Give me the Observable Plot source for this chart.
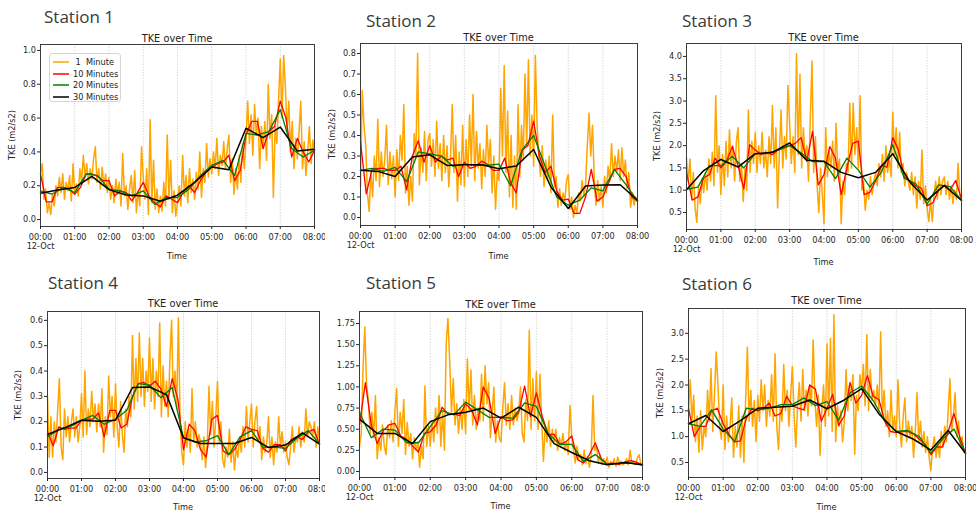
<!DOCTYPE html>
<html><head><meta charset="utf-8">
<script src="https://cdn.jsdelivr.net/npm/d3@7"></script>
<script src="https://cdn.jsdelivr.net/npm/@observablehq/plot@0.6"></script>
<style>
body{margin:0;background:#fff;}
#root{position:relative;width:976px;height:514px;overflow:hidden;background:#fff;font-family:"DejaVu Sans",sans-serif;}
.wrap{position:absolute;overflow:hidden;}
.pbox{position:absolute;}
.station{position:absolute;font-family:"Open Sans",sans-serif;font-size:17px;line-height:17px;color:#3a3a3a;white-space:nowrap;}
.ttl{position:absolute;font-size:9.8px;color:#222;transform:translate(-50%,-50%);white-space:nowrap;}
.xl{position:absolute;font-size:8.2px;color:#222;transform:translate(-50%,-50%);white-space:nowrap;}
.yl{position:absolute;font-size:8.2px;color:#222;transform:translate(-50%,-50%) rotate(-90deg);white-space:nowrap;}
.legend{position:absolute;border:1px solid #d4d4d4;border-radius:3px;background:rgba(255,255,255,0.8);box-sizing:border-box;}
.li{position:absolute;font-size:8.2px;color:#222;white-space:pre;transform:translateY(-50%);}
</style></head>
<body><div id="root"></div>
<script>
// ---------- shared axis data ----------
const hourTicks = [0, 60, 120, 180, 240, 300, 360, 420, 480];
const hourLabels = ["00:00\n12-Oct", "01:00", "02:00", "03:00", "04:00", "05:00", "06:00", "07:00", "08:00"];
const seriesNames = [" 1  Minute", "10 Minutes", "20 Minutes", "30 Minutes"];
const seriesColors = ["#FFA500", "#FF0000", "#008000", "#000000"];

// ---------- Station 1 ----------
const s1_1min = [
0.27,0.33,0.12,0.18,0.04,0.10,0.03,0.15,0.08,0.20,
0.14,0.25,0.16,0.27,0.12,0.22,0.17,0.26,0.11,0.33,
0.15,0.21,0.14,0.30,0.22,0.38,0.25,0.33,0.21,0.30,
0.24,0.36,0.43,0.22,0.30,0.18,0.31,0.20,0.27,0.16,
0.25,0.12,0.20,0.10,0.24,0.15,0.22,0.08,0.39,0.14,
0.20,0.06,0.18,0.26,0.10,0.29,0.04,0.17,0.08,0.43,
0.25,0.12,0.30,0.03,0.59,0.10,0.35,0.06,0.18,0.04,
0.14,0.05,0.22,0.08,0.50,0.12,0.35,0.04,0.17,0.02,
0.10,0.20,0.08,0.38,0.14,0.26,0.10,0.30,0.16,0.24,
0.12,0.28,0.18,0.40,0.13,0.30,0.22,0.45,0.25,0.36,
0.27,0.40,0.30,0.48,0.26,0.38,0.32,0.46,0.30,0.42,
0.50,0.22,0.36,0.15,0.30,0.18,0.38,0.22,0.45,0.30,
0.48,0.70,0.45,0.62,0.38,0.68,0.50,0.60,0.30,0.55,
0.42,0.58,0.35,0.80,0.48,0.62,0.13,0.55,0.45,0.70,
0.95,0.60,0.97,0.78,0.52,0.70,0.40,0.58,0.30,0.48,
0.36,0.52,0.70,0.30,0.46,0.26,0.40,0.55,0.33,0.47,
0.40];
const s1_10min = [0.27,0.105,0.105,0.19,0.19,0.18, 0.15,0.19,0.27,0.27,0.255,0.23, 0.23,0.14,0.17,0.16,0.11,0.16, 0.22,0.14,0.10,0.075,0.14,0.12, 0.10,0.16,0.20,0.16,0.23,0.28, 0.31,0.33,0.34,0.38,0.23,0.29, 0.50,0.58,0.58,0.42,0.52,0.55, 0.70,0.60,0.37,0.48,0.40,0.34, 0.41];
const s1_20min = [0.17,0.15,0.19,0.16,0.27,0.26,0.18,0.17,0.14,0.17,0.09,0.13,0.13,0.18,0.26,0.32,0.35,0.26,0.51,0.50,0.52,0.65,0.42,0.37,0.41];
const s1_30min = [0.155,0.175,0.19,0.255,0.177,0.145,0.14,0.108,0.144,0.22,0.311,0.295,0.54,0.484,0.547,0.405,0.415];
const s1_yTicks = [0, 0.2, 0.4, 0.6, 0.8, 1.0];

// ---------- Station 2 ----------
const s2_1min = [
0.15,0.62,0.45,0.36,0.12,0.03,0.22,0.10,0.30,0.18,
0.48,0.15,0.32,0.20,0.28,0.45,0.16,0.32,0.19,0.30,
0.10,0.33,0.18,0.40,0.28,0.55,0.12,0.25,0.06,0.20,
0.08,0.41,0.30,0.80,0.16,0.34,0.22,0.42,0.18,0.38,
0.41,0.25,0.38,0.20,0.47,0.24,0.36,0.18,0.40,0.22,
0.35,0.15,0.30,0.55,0.22,0.40,0.08,0.32,0.16,0.45,
0.15,0.38,0.20,0.50,0.25,0.60,0.18,0.42,0.24,0.36,
0.14,0.33,0.20,0.45,0.26,0.38,0.12,0.30,0.04,0.22,
0.18,0.63,0.30,0.74,0.22,0.52,0.10,0.40,0.05,0.30,
0.04,0.55,0.20,0.45,0.28,0.70,0.35,0.77,0.30,0.50,
0.25,0.79,0.45,0.30,0.20,0.35,0.15,0.28,0.18,0.30,
0.12,0.50,0.15,0.20,0.05,0.14,0.06,0.12,0.08,0.18,
0.21,0.04,0.10,0.00,0.06,0.02,0.12,0.08,0.18,0.10,
0.16,0.35,0.51,0.30,0.45,0.20,0.06,0.18,0.08,0.15,
0.05,0.20,0.12,0.25,0.18,0.36,0.20,0.30,0.22,0.33,
0.18,0.34,0.20,0.28,0.14,0.22,0.05,0.12,0.06,0.10,
0.08];
const s2_10min = [0.37,0.115,0.235,0.24,0.24,0.23, 0.23,0.25,0.135,0.30,0.375,0.27, 0.35,0.27,0.30,0.28,0.29,0.20, 0.27,0.24,0.25,0.275,0.26,0.23, 0.23,0.29,0.17,0.12,0.33,0.35, 0.47,0.30,0.22,0.25,0.13,0.085, 0.09,0.02,0.02,0.10,0.235,0.08, 0.10,0.17,0.235,0.24,0.20,0.10, 0.08];
const s2_20min = [0.23,0.24,0.225,0.245,0.175,0.32,0.31,0.30,0.25,0.26,0.255,0.255,0.26,0.155,0.33,0.40,0.25,0.10,0.06,0.085,0.145,0.13,0.235,0.16,0.08];
const s2_30min = [0.23,0.225,0.20,0.295,0.306,0.254,0.257,0.257,0.238,0.251,0.332,0.149,0.044,0.154,0.158,0.16,0.084];
const s2_yTicks = [0, 0.1, 0.2, 0.3, 0.4, 0.5, 0.6, 0.7, 0.8];

// ---------- Station 3 ----------
const s3_1min = [
1.72,1.20,1.70,0.80,1.40,0.60,0.28,1.10,0.70,1.25,
0.95,1.40,1.00,1.70,1.20,1.85,1.10,3.12,1.40,2.00,
0.90,1.80,1.10,2.10,1.30,2.35,1.50,2.00,1.20,2.10,
2.40,1.20,1.60,0.75,1.50,1.00,2.80,1.40,2.10,1.60,
2.30,1.40,2.00,1.60,2.30,1.50,1.90,1.30,2.20,1.60,
2.90,1.50,2.40,0.60,1.80,2.80,1.50,2.20,1.70,3.35,
2.50,1.60,2.20,1.40,4.06,1.80,3.60,1.50,2.40,1.70,
2.00,1.20,2.60,3.90,1.40,2.20,1.10,0.50,1.50,0.90,
0.25,2.40,1.30,1.90,1.50,2.10,1.20,2.50,1.40,1.70,
0.25,1.20,0.90,1.60,1.40,2.95,1.50,2.95,1.80,2.40,
1.50,3.12,1.00,1.20,0.55,1.00,0.80,1.30,0.90,1.20,
1.40,1.10,1.60,1.30,1.80,1.20,2.00,1.40,1.70,1.30,
2.75,1.80,2.40,1.50,2.30,1.40,1.60,1.10,1.40,1.20,
1.00,1.40,0.90,1.30,0.60,1.20,0.80,1.90,0.70,1.10,
0.60,0.30,0.80,0.30,0.90,1.20,0.80,1.30,0.90,1.20,
1.30,0.90,1.20,0.80,1.10,0.70,1.00,0.80,1.60,0.90,
0.78];
const s3_10min = [1.40,0.78,0.85,1.28,1.35,1.72, 1.50,1.65,1.98,1.55,1.03,2.02, 1.90,1.80,1.85,1.80,1.90,1.95, 2.00,2.05,2.18,1.65,2.32,1.12, 1.35,1.98,1.72,0.90,1.50,2.05, 2.10,0.90,0.95,1.20,1.55,1.52, 2.18,1.90,1.30,1.20,1.10,1.05, 0.65,0.72,1.00,1.10,1.00,1.22, 0.80];
const s3_20min = [1.02,1.07,1.55,1.55,1.76,1.50,1.82,1.82,1.90,2.00,1.84,1.64,1.64,1.26,1.72,1.45,1.07,1.40,2.02,1.27,1.15,0.69,1.12,1.08,0.78];
const s3_30min = [1.01,1.44,1.69,1.52,1.82,1.85,2.06,1.67,1.65,1.40,1.28,1.40,1.82,1.18,0.78,1.11,0.77];
const s3_yTicks = [0.5, 1.0, 1.5, 2.0, 2.5, 3.0, 3.5, 4.0];

// ---------- Station 4 ----------
const s4_1min = [
0.30,0.06,0.22,0.06,0.20,0.12,0.25,0.37,0.10,0.05,
0.25,0.14,0.22,0.12,0.20,0.25,0.14,0.22,0.12,0.18,
0.31,0.14,0.40,0.15,0.25,0.18,0.32,0.20,0.27,0.16,
0.27,0.18,0.33,0.08,0.22,0.15,0.38,0.22,0.30,0.14,
0.35,0.18,0.10,0.28,0.15,0.08,0.25,0.18,0.30,0.22,
0.54,0.25,0.45,0.28,0.55,0.30,0.45,0.26,0.40,0.32,
0.53,0.28,0.45,0.25,0.40,0.30,0.59,0.22,0.42,0.26,
0.36,0.22,0.45,0.60,0.30,0.40,0.25,0.61,0.20,0.08,
0.03,0.20,0.10,0.18,0.08,0.33,0.12,0.20,0.10,0.15,
0.12,0.05,0.14,0.02,0.12,0.34,0.15,0.28,0.10,0.22,
0.36,0.12,0.20,0.05,0.02,0.10,0.06,0.17,0.04,0.12,
0.01,0.10,0.06,0.14,0.08,0.18,0.10,0.26,0.12,0.20,
0.27,0.10,0.20,0.26,0.12,0.18,0.05,0.14,0.08,0.12,
0.22,0.06,0.14,0.03,0.12,0.08,0.22,0.10,0.16,0.08,
0.12,0.06,0.03,0.10,0.18,0.08,0.14,0.12,0.18,0.10,
0.16,0.12,0.25,0.14,0.20,0.18,0.14,0.20,0.10,0.18,
0.12];
const s4_10min = [0.16,0.105,0.18,0.17,0.175,0.175, 0.205,0.21,0.21,0.235,0.14,0.245, 0.245,0.175,0.19,0.30,0.35,0.355, 0.34,0.36,0.33,0.26,0.37,0.29, 0.09,0.19,0.165,0.09,0.06,0.21, 0.225,0.085,0.07,0.09,0.13,0.18, 0.17,0.165,0.095,0.08,0.11,0.11, 0.085,0.13,0.14,0.13,0.16,0.17, 0.112];
const s4_20min = [0.14,0.17,0.18,0.205,0.225,0.19,0.21,0.245,0.35,0.345,0.295,0.335,0.135,0.12,0.125,0.145,0.07,0.14,0.165,0.10,0.10,0.095,0.135,0.165,0.112];
const s4_30min = [0.15,0.176,0.206,0.202,0.206,0.335,0.337,0.307,0.137,0.114,0.114,0.114,0.138,0.098,0.108,0.156,0.112];
const s4_yTicks = [0, 0.1, 0.2, 0.3, 0.4, 0.5, 0.6];

// ---------- Station 5 ----------
const s5_1min = [
0.30,0.45,1.22,1.71,1.02,0.85,0.45,0.70,0.40,0.90,
0.15,0.40,0.25,0.55,0.30,0.20,0.55,0.40,0.60,0.35,
0.70,0.98,0.30,0.70,0.45,0.85,0.20,0.58,0.30,0.45,
0.15,0.40,0.25,0.35,0.05,0.30,0.15,1.01,0.30,0.55,
0.30,0.60,0.35,0.75,0.45,0.90,0.30,0.70,0.25,1.51,
1.81,1.30,0.70,1.10,0.55,0.80,0.45,0.75,0.50,0.85,
0.45,1.33,0.70,1.20,0.55,0.90,0.50,0.75,0.60,1.15,
0.60,1.25,0.80,1.05,0.40,0.70,1.00,0.35,0.60,0.40,
0.35,0.75,1.05,0.55,0.80,0.50,0.90,0.55,0.75,0.60,
0.70,1.00,0.45,0.35,0.85,0.60,1.67,0.50,1.10,0.60,
1.18,0.50,1.15,0.60,0.12,0.55,0.35,0.60,0.30,0.50,
0.35,0.50,0.25,0.40,0.30,0.45,0.25,0.35,0.20,0.78,
0.40,0.25,0.10,0.30,0.15,0.20,0.08,0.25,0.10,0.18,
0.05,0.20,0.90,0.25,0.30,0.10,0.20,0.08,0.15,0.10,
0.17,0.05,0.12,0.08,0.15,0.06,0.17,0.10,0.12,0.08,
0.10,0.15,0.08,0.25,0.10,0.12,0.08,0.15,0.20,0.10,
0.07];
const s5_10min = [0.55,1.05,0.55,0.33,0.48,0.55, 0.57,0.42,0.38,0.30,0.23,0.45, 0.47,0.55,0.76,0.68,0.68,0.66, 0.80,0.73,0.55,1.00,0.86,0.45, 0.65,0.60,0.61,0.70,1.01,0.65, 0.93,0.65,0.44,0.44,0.32,0.35, 0.42,0.14,0.10,0.20,0.34,0.15, 0.09,0.10,0.08,0.11,0.13,0.11, 0.075];
const s5_20min = [0.70,0.40,0.50,0.49,0.34,0.34,0.53,0.72,0.67,0.82,0.73,0.64,0.64,0.63,0.81,0.77,0.45,0.32,0.32,0.12,0.20,0.085,0.095,0.10,0.075];
const s5_30min = [0.62,0.45,0.45,0.33,0.59,0.67,0.70,0.75,0.63,0.76,0.64,0.33,0.225,0.127,0.08,0.107,0.08];
const s5_yTicks = [0, 0.25, 0.5, 0.75, 1.0, 1.25, 1.5, 1.75];

// ---------- Station 6 ----------
const s6_1min = [
1.50,2.10,1.30,1.80,0.90,1.40,0.70,1.50,0.75,1.20,
1.00,1.90,1.30,2.32,1.10,1.80,2.64,2.00,1.20,0.95,
2.00,0.75,1.40,0.90,1.20,1.75,0.60,1.20,0.80,1.60,
0.60,1.40,0.50,1.70,2.73,1.30,1.90,1.20,1.70,0.90,
1.80,1.30,2.10,1.50,2.00,1.20,1.70,1.40,2.20,1.30,
2.60,1.20,0.75,1.60,1.30,2.40,1.50,1.90,1.20,1.80,
2.36,1.40,0.80,1.60,2.05,1.30,2.30,1.50,1.90,1.40,
2.00,1.60,2.87,1.70,1.20,1.80,0.64,1.50,2.00,1.20,
2.80,1.40,2.90,1.10,3.36,0.90,1.60,1.20,1.50,0.90,
1.30,2.30,1.50,2.00,1.70,2.20,0.66,1.80,1.50,2.20,
1.90,2.40,1.60,2.97,1.50,2.30,1.70,1.90,1.60,2.00,
1.50,3.03,1.40,1.90,1.20,1.50,1.00,1.90,1.10,1.40,
1.00,2.10,1.20,0.80,1.40,1.75,0.90,1.30,1.00,1.20,
0.60,1.10,1.85,0.90,1.30,0.80,1.10,0.70,1.00,0.60,
0.34,0.80,1.00,0.60,0.90,0.60,1.10,0.80,1.20,0.90,
1.50,2.12,1.10,1.40,1.85,1.00,1.30,0.80,1.00,0.70,
0.68];
const s6_10min = [1.55,1.00,1.20,1.20,1.50,1.55, 1.25,1.05,0.90,0.92,1.35,1.55, 1.50,1.55,1.65,1.40,1.45,1.78, 1.60,1.55,1.52,2.00,1.92,1.30, 1.55,1.82,1.22,1.40,2.05,1.65, 1.80,2.18,1.78,1.72,1.30,1.10, 1.08,1.10,1.10,1.05,0.95,0.85, 0.65,0.80,0.80,1.10,1.45,1.00, 0.68];
const s6_20min = [1.25,1.20,1.52,1.15,0.90,1.55,1.52,1.55,1.62,1.62,1.75,1.60,1.68,1.32,1.85,1.98,1.70,1.30,1.10,1.12,1.00,0.68,0.95,1.15,0.68];
const s6_30min = [1.25,1.41,1.10,1.31,1.55,1.57,1.59,1.71,1.54,1.71,1.93,1.44,1.10,0.95,0.74,1.12,0.68];
const s6_yTicks = [0.5, 1.0, 1.5, 2.0, 2.5, 3.0];

const stationNames = ["Station 1","Station 2","Station 3","Station 4","Station 5","Station 6"];

// ---------- layout (page pixels) ----------
const panels = [
  {name:stationNames[0], s:[s1_1min,s1_10min,s1_20min,s1_30min], yt:s1_yTicks, fmt:".1f", dom:[-0.041,1.035],
   wrap:[0,0,325,275], fr:[40,44,314,226], st:[44,8], tY:38, xY:256, yX:12, legend:true},
  {name:stationNames[1], s:[s2_1min,s2_10min,s2_20min,s2_30min], yt:s2_yTicks, fmt:".1f", dom:[-0.039,0.849],
   wrap:[325,0,325,275], fr:[360,43,637,225], st:[366,12], tY:37, xY:256, yX:332},
  {name:stationNames[2], s:[s3_1min,s3_10min,s3_20min,s3_30min], yt:s3_yTicks, fmt:".1f", dom:[0.12,4.29],
   wrap:[650,0,326,275], fr:[686,43,961,229], st:[682,12], tY:37, xY:262, yX:657},
  {name:stationNames[3], s:[s4_1min,s4_10min,s4_20min,s4_30min], yt:s4_yTicks, fmt:".1f", dom:[-0.024,0.635],
   wrap:[0,260,325,254], fr:[47,311,319,478], st:[48,274], tY:303, xY:507, yX:18},
  {name:stationNames[4], s:[s5_1min,s5_10min,s5_20min,s5_30min], yt:s5_yTicks, fmt:".2f", dom:[-0.071,1.892],
   wrap:[325,260,325,254], fr:[359,311,642,477], st:[366,274], tY:304, xY:506, yX:null},
  {name:stationNames[5], s:[s6_1min,s6_10min,s6_20min,s6_30min], yt:s6_yTicks, fmt:".1f", dom:[0.21,3.48],
   wrap:[650,260,326,254], fr:[688,308,965,477], st:[682,275], tY:300, xY:507, yX:660},
];

function toRows(arr) {
  const step = 480 / (arr.length - 1);
  return arr.map((v, i) => ({minute: i * step, tke: v}));
}

const root = document.getElementById("root");
const ml = 36, mr = 18, mt = 4, mb = 30;

function el(cls, parent, x, y, text) {
  const d = document.createElement("div");
  d.className = cls; d.style.left = x + "px"; d.style.top = y + "px";
  if (text != null) d.textContent = text;
  parent.appendChild(d); return d;
}

panels.forEach((p) => {
  const [wx, wy, ww, wh] = p.wrap;
  const [L, T, R, B] = p.fr;
  const w = el("wrap", root, wx, wy);
  w.style.width = ww + "px"; w.style.height = wh + "px";

  const widths = [1.5, 1.3, 1.3, 1.5];
  const lines = p.s.map((arr, k) => Plot.line(toRows(arr), {x: "minute", y: "tke", stroke: seriesColors[k], strokeWidth: widths[k]}));
  const svg = Plot.plot({
    width: R - L + ml + mr, height: B - T + mt + mb,
    marginLeft: ml, marginRight: mr, marginTop: mt, marginBottom: mb,
    x: {domain: [0, 480]}, y: {domain: p.dom},
    style: {fontFamily: "DejaVu Sans", fontSize: "8.2px", color: "#262626", background: "transparent", overflow: "visible", maxWidth: "none"},
    marks: [
      Plot.ruleX(hourTicks, {stroke: "#c4c4c4", strokeWidth: 0.8, strokeDasharray: "1.2,1.6"}),
      ...lines,
      Plot.frame({stroke: "#3c3c3c", strokeWidth: 1}),
      Plot.axisX({ticks: hourTicks, tickFormat: (d) => hourLabels[hourTicks.indexOf(d)], tickSize: 3, tickPadding: 3, label: null, lineHeight: 1.2}),
      Plot.axisY({ticks: p.yt, tickFormat: d3.format(p.fmt), tickSize: 3, tickPadding: 1.5, label: null})
    ]
  });
  const box = el("pbox", w, L - wx - ml, T - wy - mt);
  box.appendChild(svg);

  const cx = (L + R) / 2 - wx;
  el("ttl", w, cx, p.tY - wy, "TKE over Time");
  el("xl", w, cx, p.xY - wy, "Time");
  if (p.yX != null) el("yl", w, p.yX - wx, (T + B) / 2 - wy, "TKE (m2/s2)");
  el("station", w, p.st[0] - wx, p.st[1] - wy, p.name);

  if (p.legend) {
    const lg = el("legend", w, 49 - wx, 53 - wy);
    lg.style.width = "72px"; lg.style.height = "49px";
    seriesNames.forEach((nm, k) => {
      const yy = 8 + k * 11.7;
      const s = document.createElementNS("http://www.w3.org/2000/svg", "svg");
      s.setAttribute("width", "18"); s.setAttribute("height", "4");
      s.style.position = "absolute"; s.style.left = "3px"; s.style.top = (yy - 2) + "px";
      const ln = document.createElementNS("http://www.w3.org/2000/svg", "line");
      ln.setAttribute("x1", "0"); ln.setAttribute("x2", "16"); ln.setAttribute("y1", "2"); ln.setAttribute("y2", "2");
      ln.setAttribute("stroke", seriesColors[k]); ln.setAttribute("stroke-width", "1.5");
      s.appendChild(ln); lg.appendChild(s);
      el("li", lg, 23, yy, nm);
    });
  }
});
</script></body></html>
